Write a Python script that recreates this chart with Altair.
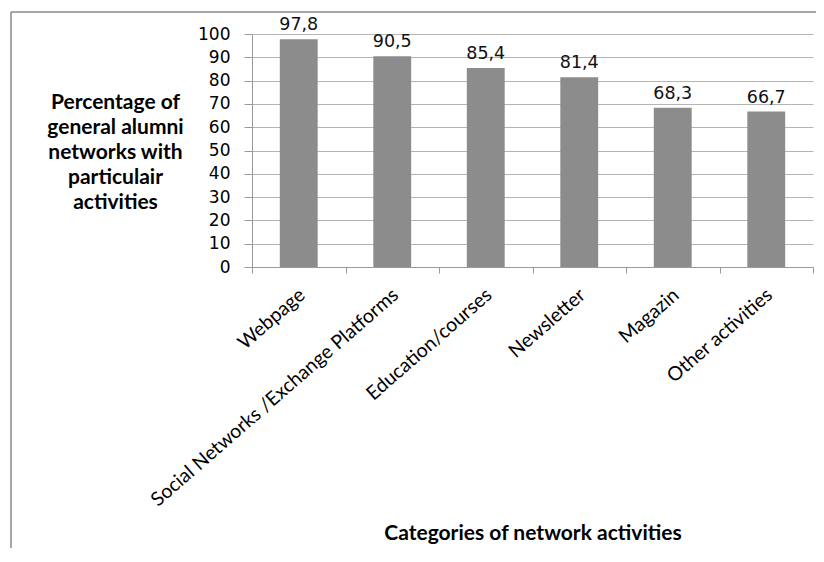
import altair as alt
import pandas as pd

categories = ["Webpage", "Social Networks /Exchange Platforms", "Education/courses",
              "Newsletter", "Magazin", "Other activities"]
values = [97.8, 90.5, 85.4, 81.4, 68.3, 66.7]
value_labels = ["97,8", "90,5", "85,4", "81,4", "68,3", "66,7"]
y_ticks = [0, 10, 20, 30, 40, 50, 60, 70, 80, 90, 100]
y_title = ["Percentage of", "general alumni", "networks with", "particulair", "activities"]
x_title = "Categories of network activities"

df = pd.DataFrame({"category": categories, "value": values, "label": value_labels})

W, H = 561, 233

x_enc = alt.X(
    "category:N", sort=categories,
    scale=alt.Scale(paddingInner=0, paddingOuter=0),
    axis=alt.Axis(
        title=x_title, titleFont="Lato", titleFontSize=21, titleFontWeight="bold",
        titleColor="#000000", titleX=W / 2, titleY=266, titleBaseline="middle",
        labelAngle=-41, labelAlign="right", labelBaseline="middle",
        labelFont="Lato", labelFontSize=19.5, labelColor="#000000",
        labelPadding=19, labelOffset=3, labelLimit=0, labelOverlap=False,
        tickBand="extent", tickSize=6, tickColor="#9a9a9a",
        domainColor="#9a9a9a", grid=False,
    ),
)

y_enc = alt.Y(
    "value:Q",
    scale=alt.Scale(domain=[0, 100], nice=False),
    axis=alt.Axis(
        values=y_ticks, tickCount=11, labelOverlap=False,
        title=y_title, titleAngle=0, titleAlign="center",
        titleBaseline="middle", titleX=-137, titleY=68, titleLineHeight=25,
        titleFont="Lato", titleFontSize=21, titleFontWeight="bold", titleColor="#000000",
        labelFont="DejaVu Sans", labelFontSize=17, labelColor="#000000",
        labelPadding=14, tickSize=8, tickColor="#9a9a9a", domainColor="#9a9a9a",
        grid=True, gridColor="#b4b4b4",
    ),
)

bars = alt.Chart(df).mark_bar(color="#8c8c8c", width=alt.RelativeBandSize(0.405)).encode(
    x=x_enc, y=y_enc
)

text = alt.Chart(df).mark_text(
    font="DejaVu Sans", fontSize=17.5, color="#111111", baseline="bottom", dy=-5
).encode(
    x=x_enc,
    y=y_enc,
    text="label:N",
)

frame_df = pd.DataFrame({"k": [0]})
frame_top = alt.Chart(frame_df).mark_rule(color="#8a8a8a", strokeWidth=1.5).encode(
    x=alt.value(-241), x2=alt.value(600), y=alt.value(-22)
)
frame_left = alt.Chart(frame_df).mark_rule(color="#8a8a8a", strokeWidth=1.5).encode(
    x=alt.value(-241), y=alt.value(-22), y2=alt.value(600)
)

chart = alt.layer(bars, text, frame_top, frame_left).properties(
    width=W, height=H,
    autosize=alt.AutoSizeParams(type="none"),
    padding={"left": 244, "top": 26, "right": 3, "bottom": 281},
).configure_view(strokeWidth=0)

chart.save("out.html", embed_options={"renderer": "svg", "actions": False})
